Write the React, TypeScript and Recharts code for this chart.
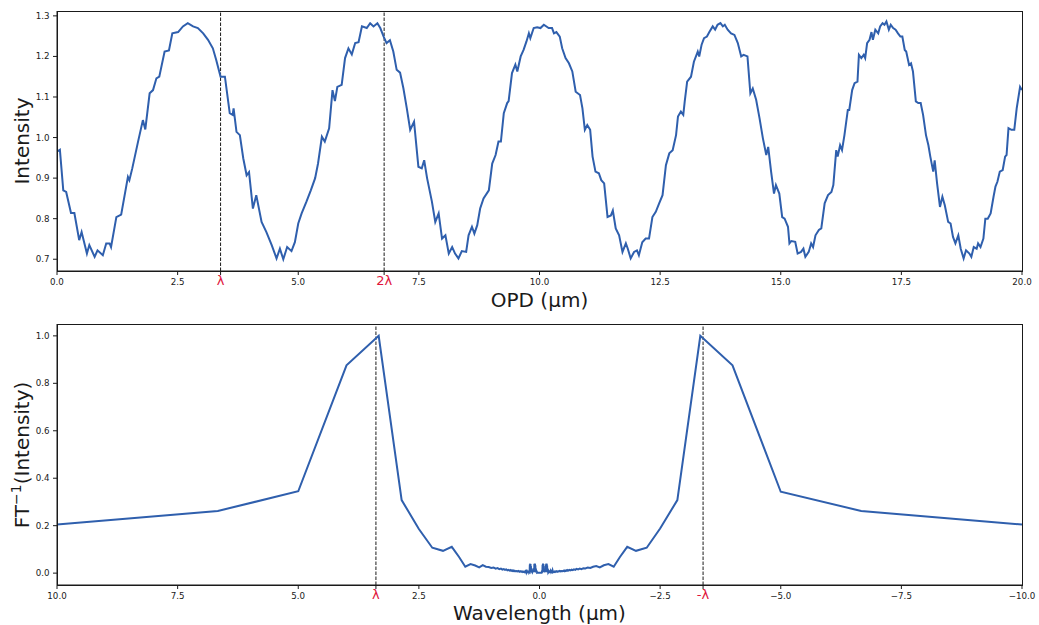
import React from 'react';
import { LineChart, Line, XAxis, YAxis, ReferenceLine } from 'recharts';

const LAMBDA = 3.39;
const TWO_LAMBDA = 6.78;

// ---- Top panel: Intensity vs OPD ----
const opd = [
  0.0, 0.06, 0.13, 0.19, 0.29, 0.36, 0.46, 0.51, 0.62, 0.67, 0.78, 0.84, 0.95, 1.02, 1.09, 1.12,
  1.23, 1.33, 1.47, 1.5, 1.56, 1.68, 1.78, 1.83, 1.92, 1.99, 2.06, 2.12, 2.23, 2.32, 2.39, 2.51,
  2.61, 2.71, 2.82, 2.92, 3.03, 3.13, 3.23, 3.3, 3.39, 3.48, 3.58, 3.64, 3.66, 3.72, 3.79, 3.86,
  3.93, 3.98, 4.06, 4.13, 4.24, 4.34, 4.45, 4.55, 4.62, 4.69, 4.77, 4.86, 4.93, 5.0, 5.07, 5.17,
  5.26, 5.35, 5.41, 5.49, 5.55, 5.64, 5.71, 5.76, 5.81, 5.9, 5.97, 6.04, 6.11, 6.18, 6.25, 6.32,
  6.42, 6.49, 6.56, 6.64, 6.7, 6.77, 6.83, 6.9, 6.97, 7.04, 7.11, 7.18, 7.25, 7.32, 7.4, 7.49,
  7.56, 7.61, 7.67, 7.77, 7.84, 7.91, 7.98, 8.05, 8.12, 8.19, 8.25, 8.32, 8.39, 8.48, 8.53, 8.6,
  8.65, 8.71, 8.77, 8.84, 8.95, 9.02, 9.09, 9.15, 9.2, 9.26, 9.33, 9.36, 9.43, 9.5, 9.54, 9.61,
  9.67, 9.73, 9.78, 9.81, 9.88, 9.95, 10.02, 10.09, 10.19, 10.26, 10.3, 10.35, 10.42, 10.47, 10.54, 10.61,
  10.68, 10.75, 10.84, 10.89, 10.94, 10.99, 11.05, 11.1, 11.16, 11.23, 11.28, 11.34, 11.41, 11.48, 11.52, 11.58,
  11.65, 11.72, 11.79, 11.83, 11.89, 11.96, 12.02, 12.06, 12.13, 12.2, 12.27, 12.34, 12.41, 12.48, 12.55, 12.62,
  12.69, 12.76, 12.83, 12.87, 12.93, 12.98, 13.01, 13.06, 13.14, 13.2, 13.28, 13.31, 13.36, 13.41, 13.47, 13.52,
  13.59, 13.64, 13.69, 13.75, 13.8, 13.84, 13.9, 13.97, 14.04, 14.11, 14.18, 14.23, 14.31, 14.37, 14.42, 14.49,
  14.56, 14.63, 14.7, 14.74, 14.8, 14.86, 14.9, 14.97, 15.03, 15.08, 15.15, 15.18, 15.22, 15.3, 15.35, 15.42,
  15.47, 15.51, 15.58, 15.63, 15.67, 15.72, 15.79, 15.84, 15.91, 15.98, 16.05, 16.09, 16.15, 16.18, 16.23, 16.27,
  16.32, 16.39, 16.42, 16.48, 16.53, 16.59, 16.62, 16.67, 16.72, 16.75, 16.79, 16.84, 16.88, 16.91, 16.96, 17.02,
  17.06, 17.11, 17.15, 17.19, 17.24, 17.28, 17.33, 17.38, 17.43, 17.48, 17.52, 17.57, 17.6, 17.66, 17.7, 17.74,
  17.8, 17.85, 17.9, 17.95, 18.01, 18.06, 18.1, 18.16, 18.19, 18.24, 18.3, 18.35, 18.4, 18.47, 18.52, 18.57,
  18.62, 18.68, 18.73, 18.79, 18.84, 18.91, 18.95, 19.0, 19.06, 19.09, 19.14, 19.2, 19.24, 19.29, 19.35, 19.41,
  19.45, 19.49, 19.54, 19.6, 19.65, 19.68, 19.72, 19.78, 19.84, 19.89, 19.96, 20.0,
];
const intensity = [
  0.965, 0.97, 0.87, 0.866, 0.814, 0.814, 0.747, 0.767, 0.714, 0.735, 0.706, 0.722, 0.71, 0.739, 0.739, 0.73,
  0.804, 0.81, 0.903, 0.895, 0.924, 0.99, 1.043, 1.02, 1.109, 1.117, 1.146, 1.15, 1.212, 1.215, 1.257, 1.26,
  1.274, 1.282, 1.274, 1.27, 1.257, 1.241, 1.22, 1.191, 1.15, 1.15, 1.06, 1.056, 1.072, 1.014, 1.006, 0.949,
  0.907, 0.915, 0.825, 0.858, 0.792, 0.767, 0.735, 0.702, 0.726, 0.7, 0.73, 0.72, 0.742, 0.788, 0.813, 0.842,
  0.87, 0.9, 0.936, 1.002, 0.99, 1.023, 1.117, 1.09, 1.125, 1.13, 1.196, 1.22, 1.205, 1.233, 1.235, 1.274,
  1.27, 1.282, 1.274, 1.282, 1.27, 1.249, 1.233, 1.24, 1.212, 1.167, 1.16, 1.121, 1.072, 1.019, 1.039, 0.928,
  0.924, 0.944, 0.9, 0.842, 0.792, 0.813, 0.751, 0.759, 0.714, 0.73, 0.714, 0.702, 0.72, 0.718, 0.759, 0.78,
  0.763, 0.784, 0.825, 0.85, 0.87, 0.936, 0.957, 0.99, 0.99, 1.06, 1.085, 1.09, 1.159, 1.18, 1.163, 1.2,
  1.216, 1.237, 1.257, 1.245, 1.27, 1.272, 1.27, 1.278, 1.27, 1.27, 1.257, 1.26, 1.249, 1.22, 1.196, 1.183,
  1.163, 1.113, 1.105, 1.072, 1.019, 1.031, 1.019, 0.953, 0.916, 0.912, 0.895, 0.887, 0.804, 0.808, 0.82, 0.776,
  0.759, 0.718, 0.739, 0.726, 0.702, 0.718, 0.722, 0.71, 0.742, 0.751, 0.751, 0.804, 0.817, 0.838, 0.858, 0.932,
  0.961, 0.969, 1.006, 1.052, 1.064, 1.056, 1.089, 1.138, 1.15, 1.187, 1.212, 1.2, 1.229, 1.245, 1.249, 1.26,
  1.274, 1.266, 1.278, 1.282, 1.274, 1.278, 1.266, 1.257, 1.253, 1.233, 1.2, 1.204, 1.2, 1.109, 1.121, 1.093,
  1.048, 0.998, 0.957, 0.977, 0.916, 0.862, 0.883, 0.862, 0.804, 0.8, 0.78, 0.739, 0.745, 0.743, 0.714, 0.718,
  0.726, 0.706, 0.718, 0.739, 0.73, 0.759, 0.772, 0.776, 0.838, 0.858, 0.866, 0.883, 0.969, 0.953, 0.981, 0.969,
  1.006, 1.068, 1.068, 1.117, 1.134, 1.138, 1.204, 1.196, 1.204, 1.196, 1.233, 1.241, 1.26, 1.241, 1.266, 1.257,
  1.274, 1.282, 1.278, 1.286, 1.266, 1.278, 1.27, 1.266, 1.257, 1.249, 1.249, 1.216, 1.212, 1.179, 1.183, 1.163,
  1.089, 1.085, 1.085, 1.056, 1.006, 0.981, 0.953, 0.916, 0.944, 0.887, 0.829, 0.854, 0.833, 0.792, 0.788, 0.755,
  0.739, 0.759, 0.726, 0.702, 0.722, 0.714, 0.706, 0.73, 0.726, 0.739, 0.73, 0.751, 0.8, 0.8, 0.813, 0.854,
  0.879, 0.891, 0.916, 0.92, 0.953, 0.957, 1.023, 1.019, 1.019, 1.072, 1.125, 1.117,
];

// ---- Bottom panel: FT^-1(Intensity) vs wavelength ----
const wavelength = [
  10.0, 6.667, 5.0, 4.0, 3.333, 2.857, 2.5, 2.222, 2.0, 1.818, 1.667, 1.538, 1.429, 1.333, 1.25, 1.176,
  1.111, 1.053, 1.0, 0.952, 0.909, 0.87, 0.833, 0.8, 0.769, 0.741, 0.714, 0.69, 0.667, 0.645, 0.625, 0.606,
  0.588, 0.571, 0.556, 0.541, 0.526, 0.513, 0.5, 0.476, 0.455, 0.435, 0.417, 0.4, 0.385, 0.37, 0.357, 0.345,
  0.333, 0.32, 0.31, 0.3, 0.29, 0.28, 0.275, 0.27, 0.265, 0.26, 0.25, 0.24, 0.23, 0.22, 0.215, 0.21,
  0.205, 0.2, 0.197, 0.193, 0.19, 0.186, 0.182, 0.178, 0.174, 0.17, 0.165, 0.16, 0.15, 0.14, 0.13, 0.125,
  0.12, 0.115, 0.11, 0.107, 0.103, 0.1, 0.097, 0.093, 0.09, 0.086, 0.082, 0.078, 0.074, 0.07, 0.065, 0.06,
  0.055, 0.05, 0.045,
  -0.045, -0.05, -0.055, -0.06, -0.064, -0.068, -0.072, -0.076, -0.08, -0.084, -0.088, -0.092, -0.096, -0.1, -0.105, -0.11,
  -0.115, -0.12, -0.125, -0.13, -0.134, -0.138, -0.142, -0.146, -0.15, -0.154, -0.158, -0.162, -0.166, -0.17, -0.175, -0.18,
  -0.19, -0.2, -0.21, -0.22, -0.23, -0.24, -0.25, -0.26, -0.27, -0.28, -0.29, -0.3, -0.31, -0.323, -0.333, -0.345,
  -0.357, -0.37, -0.385, -0.4, -0.417, -0.435, -0.455, -0.476, -0.5, -0.513, -0.526, -0.541, -0.556, -0.571, -0.588, -0.606,
  -0.625, -0.645, -0.667, -0.69, -0.714, -0.741, -0.769, -0.8, -0.833, -0.87, -0.909, -0.952, -1.0, -1.053, -1.111, -1.176,
  -1.25, -1.333, -1.429, -1.538, -1.667, -1.818, -2.0, -2.222, -2.5, -2.857, -3.333, -4.0, -5.0, -6.667, -10.0,
];
const ftIntensity = [
  0.205, 0.262, 0.345, 0.876, 1.0, 0.308, 0.186, 0.107, 0.094, 0.111, 0.068, 0.027, 0.038, 0.032, 0.024, 0.034,
  0.027, 0.026, 0.022, 0.024, 0.019, 0.021, 0.017, 0.019, 0.015, 0.017, 0.014, 0.016, 0.012, 0.014, 0.011, 0.013,
  0.01, 0.012, 0.009, 0.011, 0.008, 0.01, 0.008, 0.009, 0.007, 0.009, 0.006, 0.008, 0.006, 0.007, 0.005, 0.007,
  0.005, 0.006, 0.004, 0.006, 0.004, 0.012, 0.004, 0.015, 0.004, 0.006, 0.004, 0.006, 0.004, 0.01, 0.004, 0.006,
  0.005, 0.036, 0.004, 0.04, 0.005, 0.038, 0.004, 0.03, 0.004, 0.012, 0.004, 0.008, 0.004, 0.01, 0.004, 0.012,
  0.004, 0.02, 0.004, 0.038, 0.004, 0.041, 0.005, 0.039, 0.004, 0.033, 0.004, 0.02, 0.003, 0.012, 0.003, 0.006,
  0.003, 0.004, 0.002,
  0.002, 0.003, 0.012, 0.004, 0.035, 0.004, 0.04, 0.005, 0.038, 0.004, 0.03, 0.004, 0.015, 0.004, 0.008, 0.004,
  0.01, 0.004, 0.015, 0.004, 0.036, 0.004, 0.04, 0.005, 0.039, 0.004, 0.032, 0.004, 0.02, 0.004, 0.012, 0.004,
  0.008, 0.004, 0.006, 0.005, 0.01, 0.004, 0.007, 0.005, 0.012, 0.004, 0.006, 0.005, 0.007, 0.005, 0.007, 0.006,
  0.008, 0.006, 0.008, 0.007, 0.009, 0.007, 0.009, 0.008, 0.01, 0.008, 0.011, 0.009, 0.012, 0.01, 0.013, 0.011,
  0.014, 0.012, 0.015, 0.013, 0.016, 0.014, 0.018, 0.016, 0.019, 0.017, 0.021, 0.02, 0.024, 0.022, 0.027, 0.03,
  0.024, 0.033, 0.038, 0.027, 0.068, 0.111, 0.094, 0.107, 0.188, 0.308, 1.0, 0.876, 0.343, 0.262, 0.205,
];

// ---- Ticks ----
const topXTicks = [0, 2.5, LAMBDA, 5, TWO_LAMBDA, 7.5, 10, 12.5, 15, 17.5, 20];
const topXLabels = ['0.0', '2.5', 'λ', '5.0', '2λ', '7.5', '10.0', '12.5', '15.0', '17.5', '20.0'];
const topYTicks = [0.7, 0.8, 0.9, 1.0, 1.1, 1.2, 1.3];
const botXTicks = [10, 7.5, 5, LAMBDA, 2.5, 0, -2.5, -LAMBDA, -5, -7.5, -10];
const botXLabels = ['10.0', '7.5', '5.0', 'λ', '2.5', '0.0', '−2.5', '-λ', '−5.0', '−7.5', '−10.0'];
const botYTicks = [0.0, 0.2, 0.4, 0.6, 0.8, 1.0];

const topData = opd.map((x, i) => ({ x, y: intensity[i] }));
const botData = wavelength.map((x, i) => ({ x, y: ftIntensity[i] }));

const FONT = 'DejaVu Sans, sans-serif';
const LINE = '#2f5fad';
const RED = '#e0143c';
const INK = '#1a1a1a';

const makeXTick = (ticks: number[], labels: string[]) => (props: any) => {
  const { x, y, payload } = props;
  const idx = ticks.findIndex((t) => Math.abs(t - payload.value) < 1e-6);
  const label = idx >= 0 ? labels[idx] : String(payload.value);
  const red = label.includes('λ');
  return (
    <text
      x={x}
      y={y}
      dy={red ? 7.5 : 8}
      textAnchor="middle"
      fill={red ? RED : INK}
      fontSize={red ? 13 : 8.7}
      fontFamily={FONT}
    >
      {label}
    </text>
  );
};

const yTick = (props: any) => {
  const { x, y, payload } = props;
  return (
    <text x={x} y={y} dy={3} textAnchor="end" fill={INK} fontSize={8.7} fontFamily={FONT}>
      {Number(payload.value).toFixed(1)}
    </text>
  );
};

const W = 1039;

export default function App() {
  return (
    <div style={{ position: 'absolute', left: 0, top: 0, width: W, height: 625, background: '#fff' }}>
      <div style={{ position: 'absolute', left: 0, top: 0 }}>
        <LineChart width={W} height={310} data={topData} margin={{ top: 11, right: 17, left: 0, bottom: 0 }}>
          <XAxis
            dataKey="x"
            type="number"
            domain={[0, 20]}
            ticks={topXTicks}
            interval={0}
            allowDataOverflow
            height={39}
            tickSize={4}
            tickMargin={2}
            stroke={INK}
            tick={makeXTick(topXTicks, topXLabels)}
          />
          <YAxis
            type="number"
            domain={[0.671, 1.312]}
            ticks={topYTicks}
            interval={0}
            allowDataOverflow
            width={57}
            tickSize={4}
            tickMargin={3.5}
            stroke={INK}
            tick={yTick}
          />
          <ReferenceLine x={LAMBDA} stroke={INK} strokeWidth={1} strokeDasharray="3.5 1.5" />
          <ReferenceLine x={TWO_LAMBDA} stroke={INK} strokeWidth={1} strokeDasharray="3.5 1.5" />
          <Line type="linear" dataKey="y" stroke={LINE} strokeWidth={2} dot={false} isAnimationActive={false} />
        </LineChart>
      </div>
      <div style={{ position: 'absolute', left: 0, top: 313 }}>
        <LineChart width={W} height={312} data={botData} margin={{ top: 11, right: 17, left: 0, bottom: 0 }}>
          <XAxis
            dataKey="x"
            type="number"
            domain={[-10, 10]}
            reversed
            ticks={botXTicks}
            interval={0}
            allowDataOverflow
            height={40}
            tickSize={4}
            tickMargin={2}
            stroke={INK}
            tick={makeXTick(botXTicks, botXLabels)}
          />
          <YAxis
            type="number"
            domain={[-0.05, 1.05]}
            ticks={botYTicks}
            interval={0}
            allowDataOverflow
            width={57}
            tickSize={4}
            tickMargin={3.5}
            stroke={INK}
            tick={yTick}
          />
          <ReferenceLine x={LAMBDA} stroke={INK} strokeWidth={1} strokeDasharray="3.5 1.5" />
          <ReferenceLine x={-LAMBDA} stroke={INK} strokeWidth={1} strokeDasharray="3.5 1.5" />
          <Line type="linear" dataKey="y" stroke={LINE} strokeWidth={2} dot={false} isAnimationActive={false} />
        </LineChart>
      </div>
      <svg
        width={W}
        height={625}
        style={{ position: 'absolute', left: 0, top: 0, pointerEvents: 'none' }}
      >
        <rect x={57.5} y={11.5} width={965} height={260} fill="none" stroke={INK} strokeWidth={1} />
        <rect x={57.5} y={324.5} width={965} height={261} fill="none" stroke={INK} strokeWidth={1} />
        <text x={539.5} y={307} textAnchor="middle" fontSize={20} fontFamily={FONT} fill={INK}>
          OPD (μm)
        </text>
        <text x={539.5} y={620} textAnchor="middle" fontSize={20} fontFamily={FONT} fill={INK}>
          Wavelength (μm)
        </text>
        <text
          x={29}
          y={141}
          textAnchor="middle"
          fontSize={20}
          fontFamily={FONT}
          fill={INK}
          transform="rotate(-90 29 141)"
        >
          Intensity
        </text>
        <text
          x={29}
          y={455}
          textAnchor="middle"
          fontSize={20}
          fontFamily={FONT}
          fill={INK}
          transform="rotate(-90 29 455)"
        >
          FT
          <tspan fontSize={14} dy={-8}>−1</tspan>
          <tspan dy={8}>(Intensity)</tspan>
        </text>
      </svg>
    </div>
  );
}
